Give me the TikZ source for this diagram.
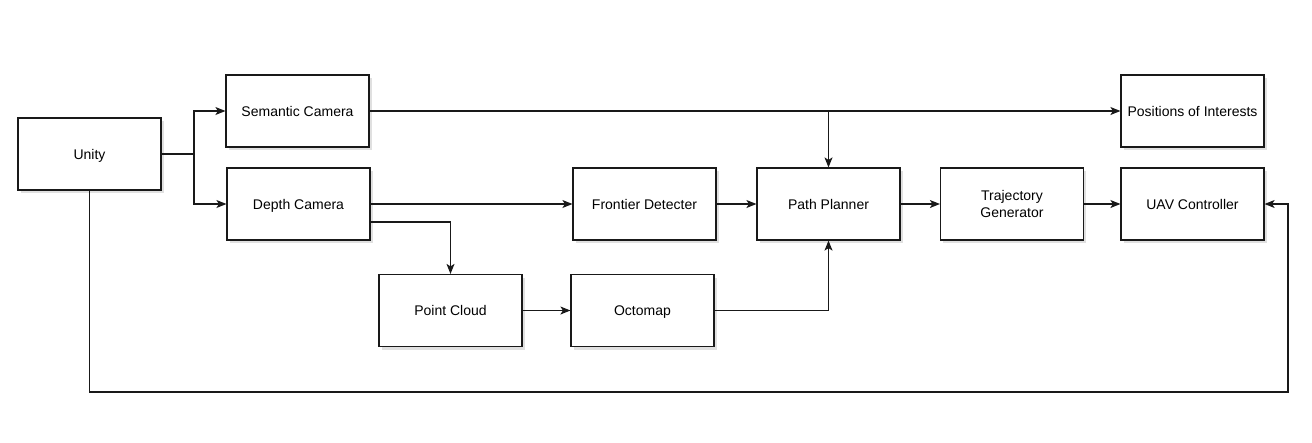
\documentclass[tikz,border=0pt]{standalone}
\usepackage{fontspec}
\setmainfont{Liberation Sans}
\usetikzlibrary{arrows.meta,shadows,calc}
\begin{document}
\begin{tikzpicture}[x=1pt,y=-1pt,
  blk/.style={draw=black!90,line width=1.2pt,fill=white,minimum width=143pt,minimum height=72pt,
    inner sep=0pt,align=center,font=\fontsize{14}{17}\selectfont,text height=10pt,text depth=0pt,
    drop shadow={opacity=0.2,shadow xshift=2.5pt,shadow yshift=-3pt,fill=black!60}},
  con/.style={draw=black!90,line width=1.2pt},
  arr/.style={con,-{Stealth[length=10pt,width=8pt,inset=2.5pt]}}]
\useasboundingbox[fill=white] (0,0) rectangle (1312,442);
\node[blk] (unity) at (89.5,154) {Unity};
\node[blk] (sem) at (297.5,111) {Semantic Camera};
\node[blk] (dep) at (298.5,204) {Depth Camera};
\node[blk] (poi) at (1192.5,111) {Positions of Interests};
\node[blk] (fd) at (644.5,204) {Frontier Detecter};
\node[blk] (pp) at (828.5,204) {Path Planner};
\node[blk,text height=,text depth=] (tg) at (1012,204) {Trajectory\\Generator};
\node[blk] (uav) at (1192.5,204) {UAV Controller};
\node[blk] (pc) at (450.5,310.5) {Point Cloud};
\node[blk] (oct) at (642.5,310.5) {Octomap};
\coordinate (split) at (194,154);
\coordinate (fb1) at (89.5,392);
\coordinate (fb2) at (1288,392);
\draw[con] (unity.east) -- (split);
\draw[arr] (split) |- (sem.west);
\draw[arr] (split) |- (dep.west);
\draw[arr] (sem.east) -- (poi.west);
\draw[arr] (sem.east -| pp.north) -- (pp.north);
\draw[arr] (dep.east) -- (fd.west);
\draw[arr] ($(dep.east)+(0,18)$) -| (pc.north);
\draw[arr] (fd.east) -- (pp.west);
\draw[arr] (pp.east) -- (tg.west);
\draw[arr] (tg.east) -- (uav.west);
\draw[arr] (pc.east) -- (oct.west);
\draw[arr] (oct.east) -| (pp.south);
\draw[arr] (unity.south) -- (fb1) -- (fb2) |- (uav.east);
\end{tikzpicture}
\end{document}
